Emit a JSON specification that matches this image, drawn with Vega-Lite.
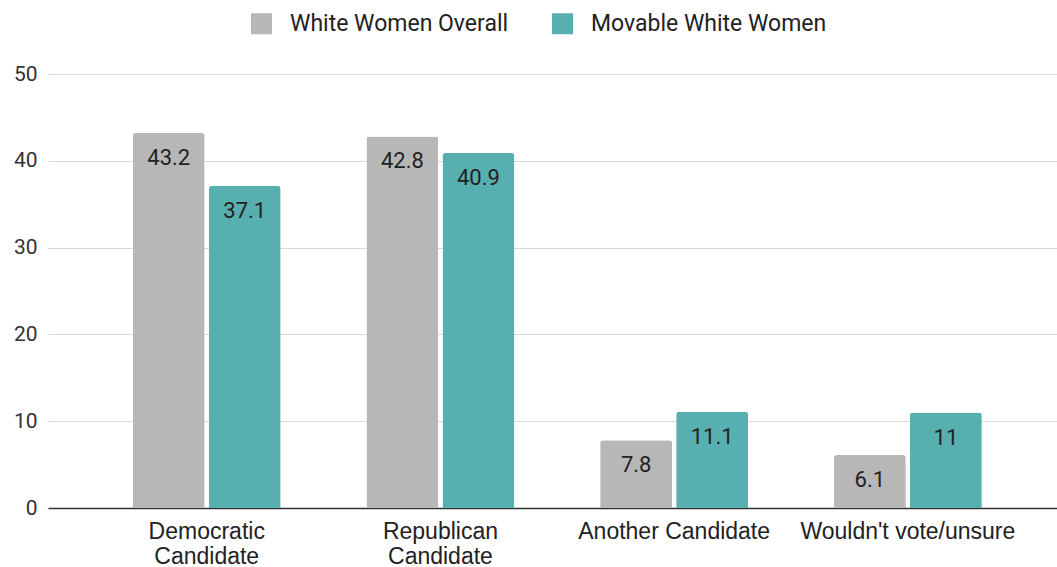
{
  "$schema": "https://vega.github.io/schema/vega-lite/v6.json",
  "width": 1009,
  "height": 434,
  "autosize": {"type": "none"},
  "padding": {"left": 48, "top": 74, "right": 0, "bottom": 59},
  "background": "white",
  "config": {"view": {"stroke": null}, "font": "Roboto"},
  "data": {
    "values": [
      {"category": "Democratic Candidate", "group": "White Women Overall", "value": 43.2},
      {"category": "Democratic Candidate", "group": "Movable White Women", "value": 37.1},
      {"category": "Republican Candidate", "group": "White Women Overall", "value": 42.8},
      {"category": "Republican Candidate", "group": "Movable White Women", "value": 40.9},
      {"category": "Another Candidate", "group": "White Women Overall", "value": 7.8},
      {"category": "Another Candidate", "group": "Movable White Women", "value": 11.1},
      {"category": "Wouldn't vote/unsure", "group": "White Women Overall", "value": 6.1},
      {"category": "Wouldn't vote/unsure", "group": "Movable White Women", "value": 11}
    ]
  },
  "encoding": {
    "x": {
      "field": "category",
      "type": "nominal",
      "sort": null,
      "title": null,
      "scale": {"paddingInner": 0.3667, "paddingOuter": 0.342, "align": 0.53},
      "axis": {
        "labelAngle": 0,
        "labelFont": "Liberation Sans",
        "labelFontSize": 23,
        "labelColor": "#222222",
        "labelPadding": 12,
        "labelLineHeight": 25,
        "labelLimit": 400,
        "labelExpr": "datum.value == 'Democratic Candidate' ? ['Democratic', 'Candidate'] : datum.value == 'Republican Candidate' ? ['Republican', 'Candidate'] : datum.value",
        "ticks": false,
        "domainColor": "#333333",
        "domainWidth": 1.5,
        "grid": false
      }
    },
    "xOffset": {
      "field": "group",
      "type": "nominal",
      "sort": ["White Women Overall", "Movable White Women"],
      "scale": {"paddingInner": 0.053}
    },
    "y": {
      "field": "value",
      "type": "quantitative",
      "title": null,
      "scale": {"domain": [0, 50]},
      "axis": {
        "values": [0, 10, 20, 30, 40, 50],
        "labelFontSize": 21,
        "labelColor": "#333333",
        "labelPadding": 11,
        "ticks": false,
        "domain": false,
        "gridColor": "#d9d9d9",
        "gridWidth": 1.2
      }
    }
  },
  "layer": [
    {
      "mark": {"type": "bar", "cornerRadiusTopLeft": 3, "cornerRadiusTopRight": 3},
      "encoding": {
        "color": {
          "field": "group",
          "type": "nominal",
          "sort": ["White Women Overall", "Movable White Women"],
          "scale": {"domain": ["White Women Overall", "Movable White Women"], "range": ["#b7b7b7", "#58afaf"]},
          "legend": {
            "title": null,
            "orient": "none",
            "direction": "horizontal",
            "legendX": 202,
            "legendY": -62,
            "padding": 0,
            "symbolType": "square",
            "symbolSize": 441,
            "symbolStrokeWidth": 0,
            "symbolOpacity": 1,
            "labelFontSize": 23,
            "labelColor": "#222222",
            "labelOffset": 17,
            "labelLimit": 400,
            "columnPadding": 42,
            "symbolLimit": 10
          }
        }
      }
    },
    {
      "mark": {"type": "text", "baseline": "middle", "dy": 25, "fontSize": 22, "color": "#222222"},
      "encoding": {
        "text": {"field": "value", "type": "quantitative"}
      }
    }
  ]
}
